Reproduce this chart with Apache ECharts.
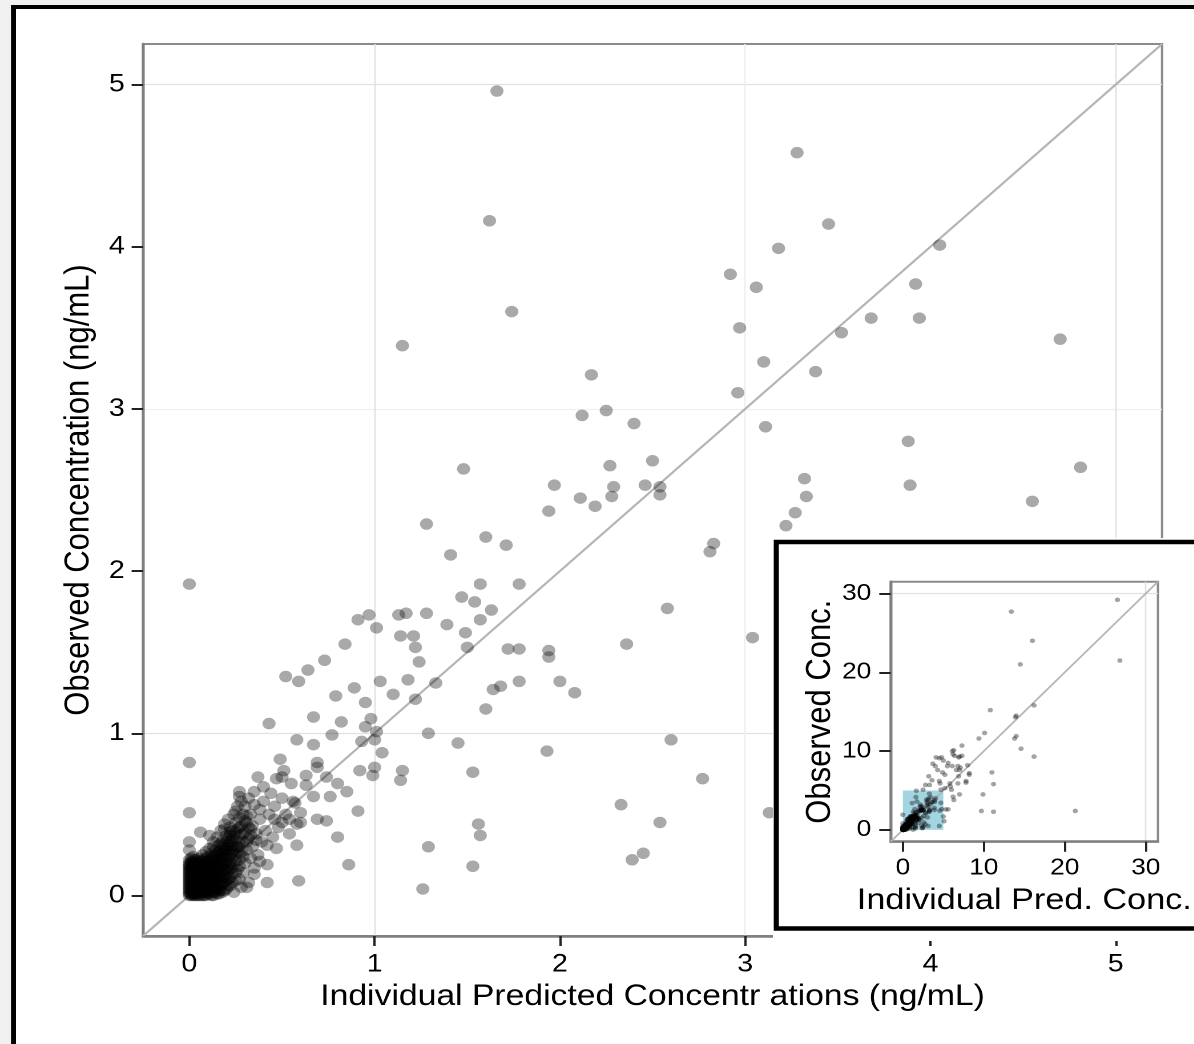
<!DOCTYPE html>
<html>
<head>
<meta charset="UTF-8">
<title>Observed vs Individual Predicted</title>
<script src="https://cdn.jsdelivr.net/npm/echarts@6/dist/echarts.min.js"></script>
<style>
  html, body { margin: 0; padding: 0; background: #fff; overflow: hidden; }
  /* the reference is horizontally stretched, so draw square and stretch */
  #main { width: 1046px; height: 1044px; transform: scaleX(1.1416); transform-origin: 0 0; }
</style>
</head>
<body>
<div id="main"></div>
<script>
// dense cloud near the origin (pred, obs)
var clusterPts = [
  [0,0],[0,0.02],[0,0.04],[0,0.06],[0,0.08],[0,0.1],[0,0.12],[0,0.14],[0,0.16],[0,0.18],[0,0.2],[0,0.22],
  [0.01,0.01],[0.01,0.05],[0.01,0.09],[0.01,0.13],[0.01,0.17],[0.01,0.21],
  [0.02,0],[0.02,0.03],[0.02,0.07],[0.02,0.11],[0.02,0.15],[0.02,0.19],[0.02,0.24],
  [0.03,0.01],[0.03,0.05],[0.03,0.09],[0.03,0.13],[0.03,0.17],[0.03,0.22],
  [0.04,0],[0.04,0.03],[0.04,0.07],[0.04,0.11],[0.04,0.15],[0.04,0.2],
  [0.05,0.02],[0.05,0.06],[0.05,0.1],[0.05,0.14],[0.05,0.18],[0.05,0.23],
  [0.06,0],[0.06,0.04],[0.06,0.08],[0.06,0.12],[0.06,0.16],[0.06,0.21],
  [0.07,0.02],[0.07,0.06],[0.07,0.1],[0.07,0.14],[0.07,0.19],[0.07,0.25],
  [0.08,0],[0.08,0.04],[0.08,0.08],[0.08,0.13],[0.08,0.17],[0.08,0.22],
  [0.09,0.02],[0.09,0.06],[0.09,0.11],[0.09,0.15],[0.09,0.2],[0.09,0.27],
  [0.1,0.01],[0.1,0.05],[0.1,0.09],[0.1,0.14],[0.1,0.18],[0.1,0.24],
  [0.11,0.03],[0.11,0.07],[0.11,0.12],[0.11,0.17],[0.11,0.22],[0.11,0.29],
  [0.12,0],[0.12,0.05],[0.12,0.1],[0.12,0.15],[0.12,0.2],[0.12,0.26],
  [0.13,0.02],[0.13,0.08],[0.13,0.13],[0.13,0.18],[0.13,0.24],[0.13,0.33],
  [0.14,0.04],[0.14,0.1],[0.14,0.16],[0.14,0.22],[0.14,0.28],
  [0.15,0.01],[0.15,0.07],[0.15,0.13],[0.15,0.19],[0.15,0.26],[0.15,0.36],
  [0.16,0.03],[0.16,0.1],[0.16,0.17],[0.16,0.24],[0.16,0.31],
  [0.17,0.06],[0.17,0.14],[0.17,0.21],[0.17,0.28],[0.17,0.4],
  [0.18,0.02],[0.18,0.11],[0.18,0.19],[0.18,0.26],[0.18,0.34],
  [0.19,0.08],[0.19,0.16],[0.19,0.24],[0.19,0.31],[0.19,0.44],
  [0.2,0.04],[0.2,0.13],[0.2,0.21],[0.2,0.29],[0.2,0.37],
  [0.21,0.1],[0.21,0.19],[0.21,0.27],[0.21,0.35],[0.21,0.47],
  [0.22,0.06],[0.22,0.16],[0.22,0.25],[0.22,0.33],[0.22,0.42],
  [0.23,0.13],[0.23,0.23],[0.23,0.31],[0.23,0.4],
  [0.24,0.02],[0.24,0.19],[0.24,0.28],[0.24,0.37],[0.24,0.5],
  [0.25,0.09],[0.25,0.25],[0.25,0.34],[0.25,0.45],
  [0.26,0.16],[0.26,0.3],[0.26,0.41],[0.26,0.55],
  [0.27,0.22],[0.27,0.37],[0.27,0.48],
  [0.28,0.05],[0.28,0.27],[0.28,0.43],[0.28,0.58],
  [0.29,0.14],[0.29,0.33],[0.29,0.5],
  [0.3,0.2],[0.3,0.39],[0.3,0.55],
  [0.31,0.28],[0.31,0.45],
  [0.32,0.08],[0.32,0.35],[0.32,0.6],
  [0.33,0.23],[0.33,0.5],[0.34,0.3],[0.34,0.43],[0.35,0.17],[0.35,0.56],
  [0.36,0.38],[0.37,0.25],[0.38,0.47],[0.39,0.33],[0.4,0.58],[0.41,0.4],[0.42,0.19],
  [0.43,0.5],[0.44,0.63],[0.45,0.36],[0.46,0.55],[0.48,0.42],[0.5,0.6],[0.52,0.5],
  [0.54,0.38],[0.56,0.58],[0.6,0.45],
  [0,0.01],[0,0.03],[0,0.05],[0,0.07],[0,0.09],[0,0.11],[0,0.13],[0,0.15],[0,0.17],[0,0.19],
  [0.01,0],[0.01,0.03],[0.01,0.07],[0.01,0.11],[0.01,0.15],[0.01,0.19],[0.01,0.23],
  [0.02,0.01],[0.02,0.05],[0.02,0.09],[0.02,0.13],[0.02,0.17],[0.02,0.21],
  [0.03,0],[0.03,0.03],[0.03,0.07],[0.03,0.11],[0.03,0.15],[0.03,0.19],
  [0.04,0.01],[0.04,0.05],[0.04,0.09],[0.04,0.13],[0.04,0.17],[0.04,0.22],
  [0.05,0],[0.05,0.04],[0.05,0.08],[0.05,0.12],[0.05,0.16],[0.05,0.2],
  [0.06,0.02],[0.06,0.06],[0.06,0.1],[0.06,0.14],[0.06,0.18],
  [0.07,0],[0.07,0.04],[0.07,0.08],[0.07,0.12],[0.07,0.16],[0.07,0.21],
  [0.08,0.02],[0.08,0.06],[0.08,0.1],[0.08,0.15],[0.08,0.19],
  [0.09,0],[0.09,0.04],[0.09,0.08],[0.09,0.13],[0.09,0.17],[0.09,0.23],
  [0.1,0.03],[0.1,0.07],[0.1,0.11],[0.1,0.16],[0.1,0.21],
  [0.11,0.01],[0.11,0.05],[0.11,0.1],[0.11,0.14],[0.11,0.19],
  [0.12,0.03],[0.12,0.08],[0.12,0.12],[0.12,0.17],[0.12,0.23],
  [0.13,0],[0.13,0.05],[0.13,0.11],[0.13,0.16],[0.13,0.21],
  [0.14,0.02],[0.14,0.07],[0.14,0.13],[0.14,0.19],[0.14,0.25],
  [0.15,0.04],[0.15,0.1],[0.15,0.16],[0.15,0.22],
  [0.16,0.01],[0.16,0.07],[0.16,0.14],[0.16,0.2],[0.16,0.27],
  [0.17,0.03],[0.17,0.1],[0.17,0.18],[0.17,0.25],
  [0.18,0.07],[0.18,0.15],[0.18,0.23],[0.18,0.3],
  [0.19,0.03],[0.19,0.12],[0.19,0.2],[0.19,0.28],
  [0.2,0.09],[0.2,0.17],[0.2,0.25],[0.2,0.33],
  [0.21,0.06],[0.21,0.15],[0.21,0.23],[0.21,0.31],
  [0.22,0.11],[0.22,0.2],[0.22,0.29],[0.22,0.37],
  [0.23,0.08],[0.23,0.17],[0.23,0.27],[0.23,0.35],
  [0.25,0.14],[0.25,0.21],[0.25,0.3],[0.25,0.39],
  [0.27,0.18],[0.27,0.26],[0.27,0.33],[0.27,0.42],
  [0.29,0.24],[0.29,0.38],[0.3,0.46],[0.31,0.33],[0.32,0.42],[0.33,0.37]
];

// low / mid range scatter
var spreadPts = [
  [0,0.82],[0,0.51],[0.06,0.39],[0,0.33],[0,0.28],
  [0.51,0.77],[0.37,0.73],[0.27,0.64],[0.27,0.61],[0.35,0.64],[0.40,0.67],[0.47,0.72],[0.50,0.73],
  [0.55,0.69],[0.63,0.74],[0.69,0.82],[0.69,0.79],[0.74,0.73],[0.63,0.68],[0.67,0.61],[0.60,0.51],
  [0.57,0.57],[0.54,0.47],[0.46,0.47],[0.50,0.45],[0.58,0.44],[0.42,0.31],
  [0.38,0.21],[0.35,0.13],[0.31,0.05],[0.27,0.10],[0.19,0.41],[0.25,0.52],[0.31,0.49],[0.38,0.53],
  [0.33,0.41],[0.36,0.34],[0.27,0.30],[0.22,0.39],[0.17,0.32],[0.13,0.30],[0.11,0.37],
  [0.67,1.10],[0.43,1.06],[0.82,1.07],[0.98,1.09],[0.95,1.04],[1.01,1.01],[0.77,0.99],[0.58,0.96],
  [0.67,0.93],[0.93,0.95],[1.00,0.96],[1.04,0.88],[1.29,1.00],[1.45,0.94],[1.93,0.89],[2.60,0.96],[2.77,0.72],
  [1.53,0.76],[1.15,0.77],[1.14,0.71],[1.00,0.79],[0.99,0.74],[0.92,0.77],[0.80,0.69],[0.85,0.64],
  [0.76,0.61],[0.91,0.52],[0.74,0.46],[0.69,0.47],[0.49,0.84],
  [1.56,0.44],[1.57,0.37],[2.33,0.56],[2.54,0.45],[2.45,0.26],[2.39,0.22],[3.13,0.51],[1.29,0.30],
  [1.53,0.18],[1.26,0.04],[0.80,0.36],[0.86,0.19],[0.58,0.31],[0.59,0.09],[0.42,0.08],[0.47,0.29],
  [0,1.92],
  [1.57,1.92],[1.78,1.92],[1.47,1.84],[1.54,1.81],[1.63,1.76],[1.57,1.70],[1.39,1.67],[1.49,1.62],[1.50,1.53],
  [0.91,1.70],[0.97,1.73],[1.13,1.73],[1.17,1.74],[1.28,1.74],[1.01,1.65],[1.14,1.60],[1.21,1.60],[1.22,1.53],[1.24,1.44],
  [0.84,1.55],[0.73,1.45],[0.64,1.39],[0.52,1.35],[0.59,1.32],
  [1.72,1.52],[1.78,1.52],[1.94,1.51],[1.94,1.47],[2.00,1.32],[2.08,1.25],[1.78,1.32],[1.68,1.29],[1.64,1.27],[1.60,1.15],
  [1.33,1.31],[1.18,1.33],[1.03,1.32],[1.10,1.24],[1.22,1.21],[0.89,1.28],[0.79,1.23],[0.95,1.19]
];

// upper range and outliers
var highPts = [
  [1.66,4.96],[1.62,4.16],[1.74,3.60],[1.15,3.39],[2.17,3.21],
  [3.28,4.58],[3.45,4.14],[3.18,3.99],[2.92,3.83],[3.06,3.75],[4.05,4.01],[3.92,3.77],[3.68,3.56],
  [3.94,3.56],[3.52,3.47],[2.97,3.50],[4.70,3.43],[3.10,3.29],[3.38,3.23],[2.96,3.10],
  [3.11,2.89],[3.88,2.80],[3.89,2.53],[4.81,2.64],[4.55,2.43],[3.32,2.57],[3.33,2.46],[3.27,2.36],
  [3.22,2.28],[2.83,2.17],[2.81,2.12],
  [2.12,2.96],[2.25,2.99],[2.40,2.91],[2.27,2.65],[2.50,2.68],[1.48,2.63],[1.97,2.53],[2.29,2.52],
  [2.46,2.53],[2.54,2.52],[2.54,2.47],[2.28,2.46],[2.11,2.45],[2.19,2.40],[1.94,2.37],[1.28,2.29],
  [1.60,2.21],[1.71,2.16],[1.41,2.10],
  [2.58,1.77],[2.36,1.55],[3.04,1.59]
];

// points only seen in the full-range inset
var insetOnlyPts = [
  [26.5,29.2],[13.4,27.7],[16.0,24.0],[14.5,21.0],[26.8,21.5],[16.2,15.8],[13.9,14.3],[14.0,14.5],
  [10.8,15.2],[10.1,12.3],[9.4,11.6],[13.8,11.6],[14.0,11.9],[14.6,10.3],[16.2,9.3],
  [7.3,10.7],[6.3,10.1],[6.4,9.4],[7.0,9.3],[4.5,9.1],[5.0,8.8],[5.6,8.5],[4.0,8.1],[4.3,7.6],
  [5.5,8.1],[6.8,8.1],[7.0,7.6],[8.2,7.2],[8.2,7.0],[7.8,6.2],[6.8,5.9],[4.5,6.2],[3.3,5.7],
  [4.7,5.1],[5.9,5.5],[7.0,4.5],[6.3,3.8],[5.6,2.6],[5.0,1.7],[11.0,7.3],[11.2,5.8],[9.9,4.5],
  [9.7,2.4],[11.2,2.3],[21.3,2.4],[4.1,9.2],[4.8,9.2],[3.7,8.4],[4.9,7.3],[6.1,8.1],[6.6,7.6],
  [3.2,6.8],[3.6,6.3],[4.6,5.9],[5.2,7.0],[5.8,5.9],[2.8,5.7],[2.5,5.1],[6.0,5.1],[6.2,4.2],
  [5.2,5.3],[5.3,2.6],[5.1,1.1],[4.5,0.5],[8.0,8.2],[7.1,7.9],[6.9,9.2],[7.3,9.4],[6.1,10.0],
  [6.2,9.6],[6.9,6.8],[7.8,6.0]
];

var mainTicks = [0, 1, 2, 3, 4, 5];
var insetTicks = [0, 10, 20, 30];
var mainRange = [-0.25, 5.25];
var insetRange = [-1.5, 31.5];
var insetBox = [[0, 0], [5, 5]];

var mainPts = clusterPts.concat(spreadPts, highPts);
var insetPts = mainPts.concat(insetOnlyPts);

var font = 'Liberation Sans, Arial, sans-serif';
var none = 'rgba(0,0,0,0)';
var major = '#e2e2e2';
var minor = '#efefef';
// main axis: ticks every 0.25 from -0.25 -> majors at index 1, minors at index 3
var mainGridColors = [none, major, none, minor];
// inset axis: ticks every 0.5 from -1.5 -> 0 at index 3, 5 at index 13
var insetGridColors = [];
for (var i = 0; i < 20; i++) insetGridColors.push(none);
insetGridColors[3] = major;
insetGridColors[13] = minor;

function valAxis(idx, range, step, ticks, colors, name, gap, lab, zz, labSize, nameSize) {
  return {
    type: 'value', gridIndex: idx, min: range[0], max: range[1], interval: step, z: zz,
    axisLine: { show: true, onZero: false, lineStyle: { color: '#7f7f7f', width: 2.5 } },
    axisTick: { show: true, customValues: ticks, length: 10, lineStyle: { color: '#222', width: 2 } },
    axisLabel: {
      customValues: ticks, color: '#000', fontSize: labSize, fontFamily: font, margin: lab,
      formatter: function (v) { return ticks.indexOf(v) >= 0 ? String(v) : ''; }
    },
    splitLine: { show: true, lineStyle: { color: colors, width: 1.3 } },
    name: name, nameLocation: 'middle', nameGap: gap,
    nameTextStyle: { color: '#000', fontSize: nameSize, fontFamily: font }
  };
}

var chart = echarts.init(document.getElementById('main'), null, { devicePixelRatio: 2 });

var option = {
  backgroundColor: '#fff',
  animation: false,
  grid: [
    { left: 125.3, top: 44, width: 892.6, height: 892, show: true, backgroundColor: '#fff',
      borderColor: '#8a8a8a', borderWidth: 2, z: 0 },
    { left: 780.2, top: 581.7, width: 237.4, height: 260, show: true, backgroundColor: '#fff',
      borderColor: '#8a8a8a', borderWidth: 2, z: 51 }
  ],
  xAxis: [
    valAxis(0, mainRange, 0.25, mainTicks, mainGridColors, 'Individual Predicted Concentr ations (ng/mL)', 42, 16, 0, 25, 29.5),
    valAxis(1, insetRange, 0.5, insetTicks, insetGridColors, 'Individual Pred. Conc.', 44, 15, 52, 23, 30)
  ],
  yAxis: [
    valAxis(0, mainRange, 0.25, mainTicks, mainGridColors, 'Observed Concentration (ng/mL)', 28, 16, 0, 25, 31),
    valAxis(1, insetRange, 0.5, insetTicks, insetGridColors, 'Observed Conc.', 46, 17, 52, 23, 31)
  ],
  graphic: [
    // grey page margin and black frame
    { type: 'rect', z: 0, shape: { x: 0, y: 0, width: 9.6, height: 1044 }, style: { fill: '#f0f0f0' } },
    { type: 'rect', z: 0, shape: { x: 0, y: 0, width: 1046, height: 5 }, style: { fill: '#f0f0f0' } },
    { type: 'rect', z: 0, shape: { x: 9.6, y: 5, width: 4.4, height: 1039 }, style: { fill: '#000' } },
    { type: 'rect', z: 0, shape: { x: 9.6, y: 5, width: 1040, height: 4 }, style: { fill: '#000' } },
    // inset panel
    { type: 'rect', z: 50, shape: { x: 677, y: 538, width: 400, height: 403 }, style: { fill: '#fff' } },
    { type: 'rect', z: 50, shape: { x: 680, y: 542, width: 400, height: 386.5 },
      style: { fill: '#fff', stroke: '#000', lineWidth: 4.5 } }
  ],
  series: [
    { type: 'line', xAxisIndex: 0, yAxisIndex: 0, data: [[mainRange[0], mainRange[0]], [mainRange[1], mainRange[1]]],
      showSymbol: false, silent: true, z: 1, lineStyle: { color: '#b5b5b5', width: 2 } },
    { type: 'scatter', xAxisIndex: 0, yAxisIndex: 0, data: mainPts, symbolSize: [11.5, 11.5], z: 2,
      itemStyle: { color: 'rgba(0,0,0,0.42)' } },
    { type: 'line', xAxisIndex: 1, yAxisIndex: 1, data: [[insetRange[0], insetRange[0]], [insetRange[1], insetRange[1]]],
      showSymbol: false, silent: true, z: 54, lineStyle: { color: '#b5b5b5', width: 1.6 },
      markArea: { silent: true, z: 53, itemStyle: { color: '#a3d4e2' },
        data: [[{ coord: insetBox[0] }, { coord: insetBox[1] }]] } },
    { type: 'scatter', xAxisIndex: 1, yAxisIndex: 1, data: insetPts, symbolSize: 4.6, z: 55,
      itemStyle: { color: 'rgba(0,0,0,0.45)' } }
  ]
};
chart.setOption(option);
</script>
</body>
</html>
